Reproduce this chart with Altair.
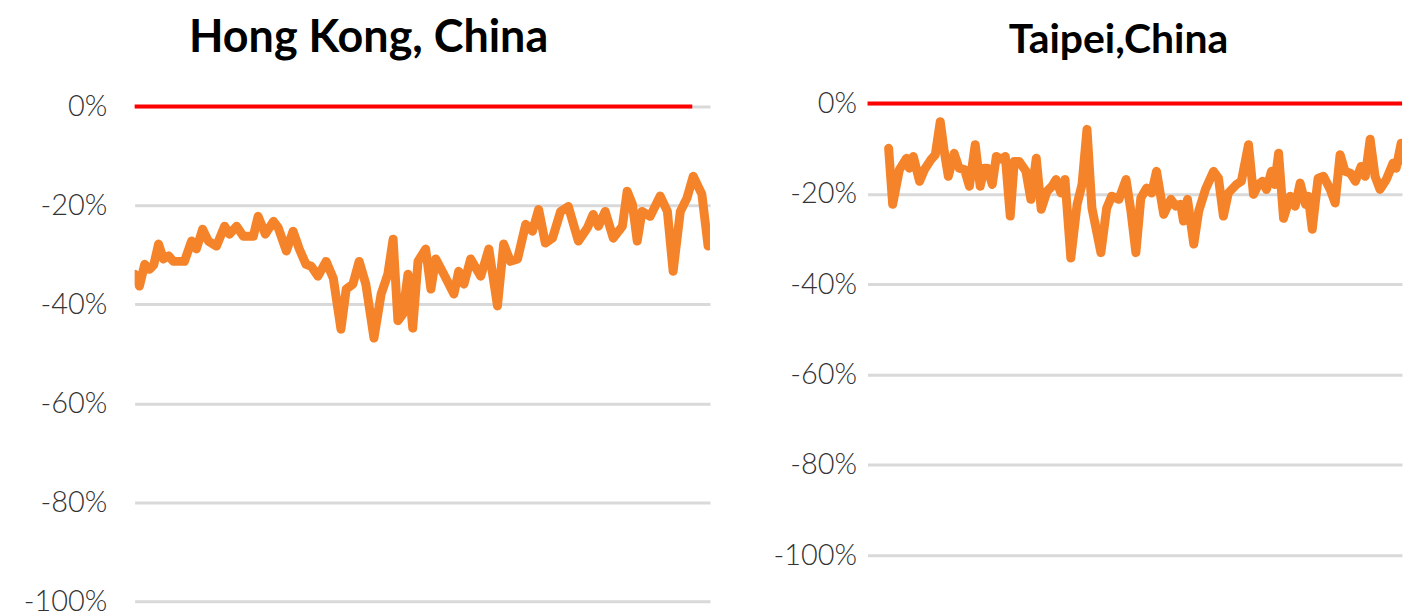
import altair as alt
import pandas as pd

# ---- data (x = month index, y = % value) ----
hk_t = [0, 1.0, 2.1, 3.1, 4.0, 5.0, 6.0, 7.1, 8.1, 10.4, 11.9, 12.9, 14.2, 15.4, 17.1, 18.8,
        19.8, 21.3, 22.7, 24.8, 25.8, 27.3, 29.0, 30.0, 31.7, 33.1, 34.4, 35.8, 36.9, 38.3,
        40.0, 41.5, 43.1, 44.2, 45.6, 46.9, 48.3, 50.0, 51.5, 52.9, 54.0, 55.0, 56.0, 57.1,
        58.1, 59.2, 60.8, 61.9, 62.9, 64.6, 66.7, 67.7, 68.8, 70.2, 72.3, 74.0, 75.8, 77.1,
        78.5, 80.0, 81.7, 83.1, 84.4, 85.8, 87.3, 89.0, 90.6, 92.7, 94.6, 95.8, 96.9, 98.3,
        100.0, 101.9, 102.9, 104.0, 105.0, 106.0, 107.7, 109.8, 111.3, 112.5, 114.0, 115.4,
        116.7, 118.5, 119.8]
hk_v = [-33.9, -36.3, -31.9, -32.9, -32.0, -27.8, -30.8, -30.2, -31.3, -31.3, -27.2, -28.8,
        -24.8, -27.2, -28.2, -24.2, -25.8, -24.2, -26.2, -26.2, -22.2, -25.8, -23.2, -24.5,
        -29.2, -25.2, -28.8, -31.9, -32.3, -34.3, -31.3, -34.7, -45.0, -36.9, -35.9, -31.3,
        -35.9, -46.8, -37.9, -33.9, -26.8, -43.3, -42.0, -33.9, -44.8, -31.3, -28.8, -36.9,
        -30.8, -33.9, -37.9, -33.3, -35.9, -30.8, -34.3, -28.8, -40.3, -27.8, -31.3, -30.8,
        -23.8, -25.2, -20.8, -27.6, -26.6, -21.2, -20.2, -27.2, -24.5, -21.8, -24.2, -21.2,
        -26.6, -24.2, -17.1, -19.8, -27.2, -21.2, -22.2, -18.1, -21.2, -33.3, -21.2, -18.5,
        -14.1, -17.7, -28.2]

tp_t = [4.7, 5.6, 7.1, 8.7, 9.3, 10.2, 11.6, 12.7, 14.2, 15.1, 16.2, 17.1, 18.0, 19.3, 20.4,
        21.6, 22.7, 24.0, 25.1, 26.0, 26.7, 27.8, 28.7, 29.8, 30.7, 31.8, 32.7, 33.8, 35.3,
        36.4, 37.6, 38.7, 40.0, 41.1, 42.0, 43.1, 44.0, 45.3, 46.7, 47.8, 48.9, 50.0, 52.0,
        53.3, 54.4, 56.0, 57.6, 58.7, 59.8, 60.9, 62.2, 63.3, 64.4, 66.0, 67.6, 68.7, 69.8,
        70.4, 71.3, 72.7, 73.8, 75.3, 77.1, 78.2, 79.3, 80.4, 82.2, 83.3, 84.9, 86.0, 87.1,
        88.0, 88.9, 90.0, 90.7, 91.6, 92.7, 94.2, 95.3, 96.4, 97.6, 98.2, 99.1, 100.4, 101.6,
        103.1, 104.2, 105.3, 106.4, 107.6, 108.7, 110.0, 110.9, 112.0, 113.1, 114.2, 115.6,
        117.1, 117.8, 118.9, 119.8, 120.9]
tp_v = [-9.9, -22.3, -14.6, -12.1, -14.3, -11.7, -17.2, -14.6, -12.3, -11.3, -4.0, -10.6,
        -16.1, -11.0, -14.3, -14.6, -18.3, -9.1, -18.3, -14.3, -14.3, -17.9, -11.7, -12.3,
        -11.7, -24.9, -12.8, -12.8, -15.0, -21.2, -12.1, -23.4, -19.4, -18.3, -16.8, -19.8,
        -16.8, -34.2, -22.3, -17.9, -5.7, -23.1, -33.0, -23.1, -20.5, -21.2, -16.8, -23.8,
        -33.0, -20.9, -18.7, -19.8, -15.0, -24.5, -21.2, -22.7, -22.3, -26.0, -21.2, -31.1,
        -23.8, -19.0, -15.0, -16.5, -24.9, -19.8, -17.9, -17.2, -9.1, -20.1, -17.9, -17.2,
        -19.0, -15.0, -17.9, -11.0, -25.4, -20.5, -22.7, -17.6, -22.3, -20.5, -27.8, -16.5,
        -16.1, -19.0, -22.0, -11.3, -15.0, -15.4, -17.2, -13.9, -16.1, -7.9, -16.1, -19.0,
        -16.8, -13.2, -14.3, -8.8, -12.8, -15.4]

y_ticks = [0, -20, -40, -60, -80, -100]
titles = ["Hong Kong, China", "Taipei,China"]

ORANGE = "#F5832A"
RED = "#FF0000"
GRID = "#D9D9D9"
LABEL = "#333333"


def panel(t, v, title, xdom, ydom, w, h, ref_end, label_pad, title_size, title_dx, title_offset):
    df = pd.DataFrame({"t": t, "v": v})
    ref = pd.DataFrame({"t0": [xdom[0]], "t1": [ref_end], "v": [0]})
    xs = alt.Scale(domain=xdom, nice=False, zero=False)
    ys = alt.Scale(domain=ydom, nice=False, zero=False)
    yaxis = alt.Axis(values=y_ticks, labelExpr="datum.value + '%'", title=None,
                     domain=False, ticks=False, grid=True, gridColor=GRID, gridWidth=3,
                     labelFont="Lato", labelFontSize=29, labelFontWeight=300,
                     labelColor=LABEL, labelPadding=label_pad)
    line = alt.Chart(df).mark_line(color=ORANGE, strokeWidth=9, strokeJoin="round",
                                   strokeCap="round", clip=True).encode(
        x=alt.X("t:Q", scale=xs, axis=None),
        y=alt.Y("v:Q", scale=ys, axis=yaxis),
    )
    rule = alt.Chart(ref).mark_rule(color=RED, strokeWidth=4).encode(
        x=alt.X("t0:Q", scale=xs, axis=None),
        x2="t1:Q",
        y=alt.Y("v:Q", scale=ys, axis=yaxis),
    )
    return alt.layer(line, rule).properties(
        width=w, height=h,
        title=alt.TitleParams(title, font="Lato", fontSize=title_size, fontWeight="bold",
                              color="#000000", anchor="middle", frame="bounds",
                              dx=title_dx, offset=title_offset),
    )


left = panel(hk_t, hk_v, titles[0], [0, 120.2], [-100, 0.6], 577, 499, 116.5,
             28, 45, 2, 32)
right = panel(tp_t, tp_v, titles[1], [0, 119.1], [-100, 0], 536, 453, 119.1,
              11, 41, 30, 28)

chart = alt.hconcat(left, right, spacing=158, bounds="flush").configure_view(
    stroke=None
).properties(
    padding={"left": 15, "top": 6, "right": 0, "bottom": 0},
    background="white",
)

chart.save("out.html", embed_options={"renderer": "svg", "actions": False})
